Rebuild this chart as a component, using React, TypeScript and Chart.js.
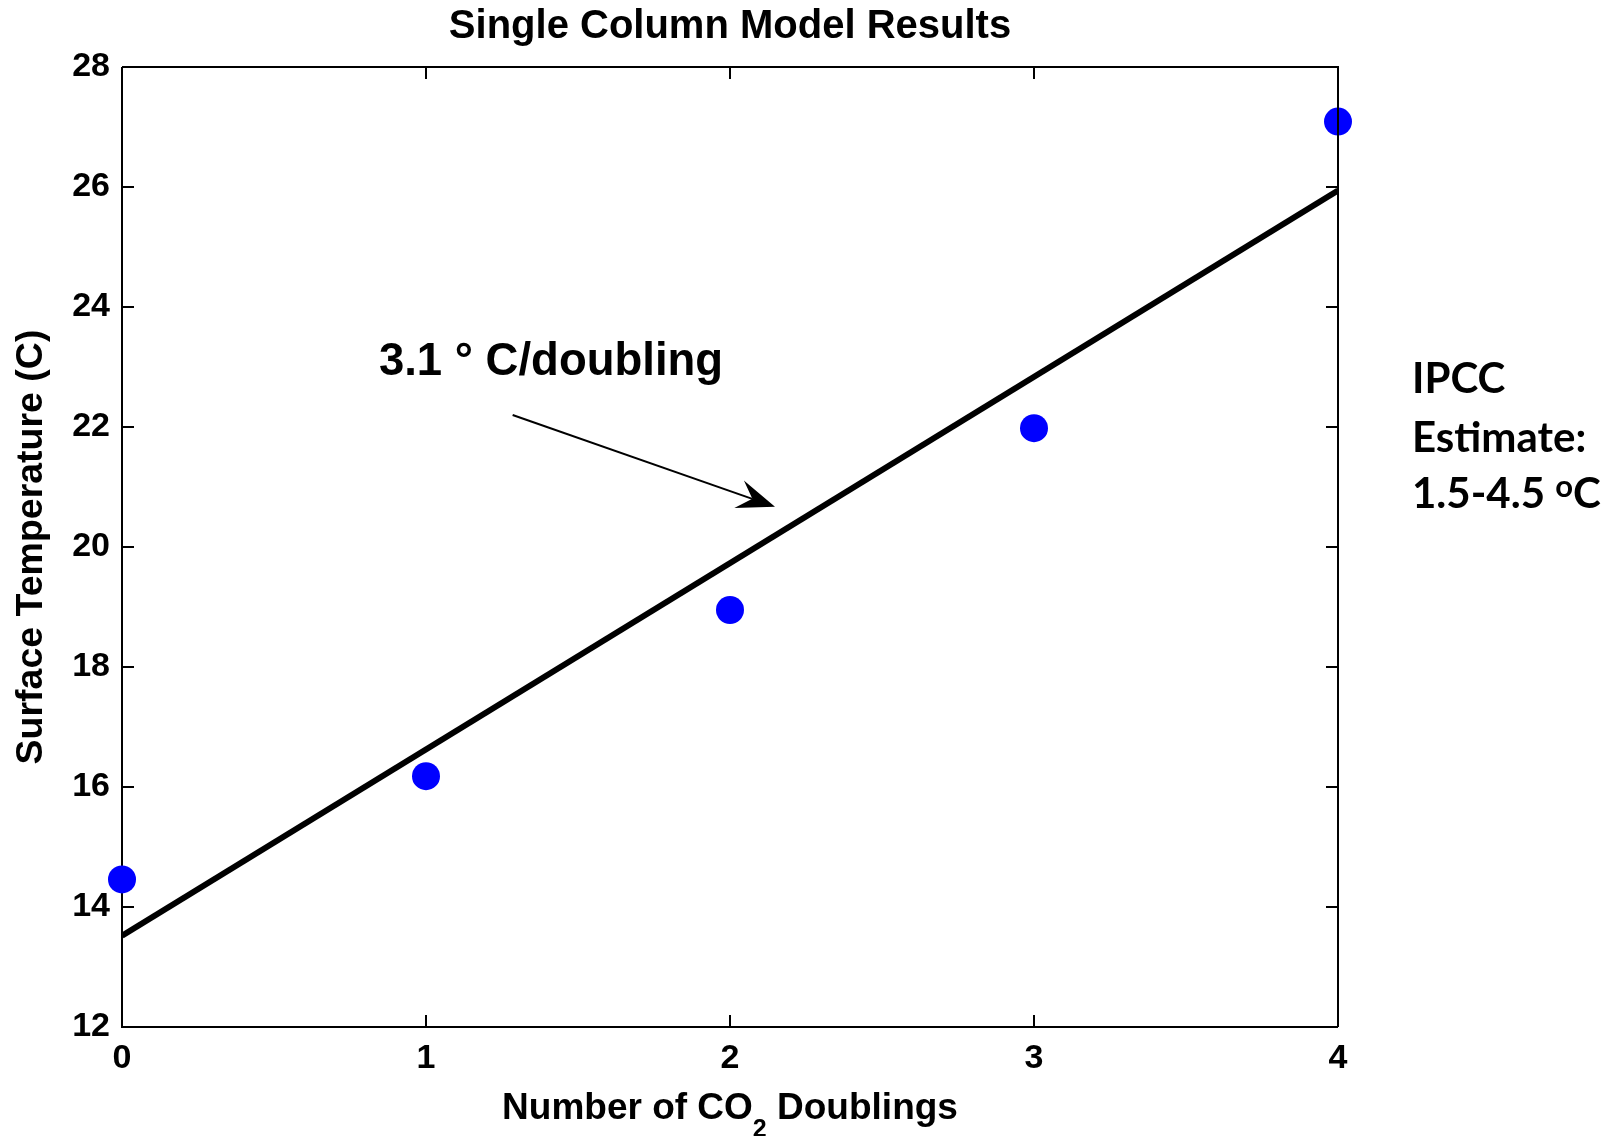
import { useEffect, useRef } from "react";
import { Chart, registerables } from "chart.js";

Chart.register(...registerables);

// Model output: surface temperature after each CO2 doubling
const doublings = [0, 1, 2, 3, 4];
const surfaceTemp = [14.46, 16.18, 18.95, 21.98, 27.09];

// Least-squares fit end points (about 3.1 C per doubling)
const fitDoublings = [0, 4];
const fitTemp = [13.52, 25.94];

// Axis ticks
const xTicks = [0, 1, 2, 3, 4];
const yTicks = [12, 14, 16, 18, 20, 22, 24, 26, 28];

// Annotation anchors in data units
const slopeLabelAt = { x: 0.845, y: 22.87 };
const arrowTail = { x: 1.285, y: 22.2 };
const arrowTip = { x: 2.148, y: 20.67 };

const SANS = '"Liberation Sans", Arial, Helvetica, sans-serif';
const CALI = 'Lato, "Open Sans", sans-serif';
const TICK = 12;

const framePlugin = {
  id: "frame",
  beforeDatasetsDraw(chart: any) {
    const { ctx, chartArea: a, scales } = chart;
    const x = scales.x;
    const y = scales.y;
    ctx.save();
    ctx.strokeStyle = "#000";
    ctx.lineWidth = 2;
    ctx.beginPath();
    ctx.moveTo(a.left, a.top);
    ctx.lineTo(a.left, a.bottom);
    ctx.lineTo(a.right, a.bottom);
    for (const v of yTicks) {
      const p = y.getPixelForValue(v);
      ctx.moveTo(a.left, p);
      ctx.lineTo(a.left + TICK, p);
    }
    for (const v of xTicks) {
      const p = x.getPixelForValue(v);
      ctx.moveTo(p, a.bottom);
      ctx.lineTo(p, a.bottom - TICK);
    }
    ctx.stroke();
    ctx.restore();
  },
  afterDatasetsDraw(chart: any) {
    const { ctx, chartArea: a, scales } = chart;
    const x = scales.x;
    const y = scales.y;
    ctx.save();
    ctx.strokeStyle = "#000";
    ctx.lineWidth = 2;
    ctx.beginPath();
    ctx.moveTo(a.left, a.top);
    ctx.lineTo(a.right, a.top);
    ctx.lineTo(a.right, a.bottom);
    for (const v of yTicks) {
      const p = y.getPixelForValue(v);
      ctx.moveTo(a.right, p);
      ctx.lineTo(a.right - TICK, p);
    }
    for (const v of xTicks) {
      const p = x.getPixelForValue(v);
      ctx.moveTo(p, a.top);
      ctx.lineTo(p, a.top + TICK);
    }
    ctx.stroke();
    ctx.restore();
  },
};

const textPlugin = {
  id: "texts",
  afterDraw(chart: any) {
    const { ctx, chartArea: a, scales } = chart;
    const x = scales.x;
    const y = scales.y;
    const cx = (a.left + a.right) / 2;
    const cy = (a.top + a.bottom) / 2;
    ctx.save();
    ctx.fillStyle = "#000";
    ctx.textBaseline = "alphabetic";

    // Title
    ctx.font = `bold 40px ${SANS}`;
    ctx.textAlign = "center";
    ctx.fillText("Single Column Model Results", cx, a.top - 29);

    // Y axis title
    ctx.save();
    ctx.translate(42, cy);
    ctx.rotate(-Math.PI / 2);
    ctx.font = `bold 37.5px ${SANS}`;
    ctx.textAlign = "center";
    ctx.fillText("Surface Temperature (C)", 0, 0);
    ctx.restore();

    // X axis title with subscript
    const main1 = "Number of CO";
    const sub = "2";
    const main2 = " Doublings";
    ctx.textAlign = "left";
    ctx.font = `bold 37px ${SANS}`;
    const w1 = ctx.measureText(main1).width;
    const w3 = ctx.measureText(main2).width;
    ctx.font = `bold 25px ${SANS}`;
    const w2 = ctx.measureText(sub).width;
    const base = a.bottom + 92;
    let sx = cx - (w1 + w2 + w3) / 2;
    ctx.font = `bold 37px ${SANS}`;
    ctx.fillText(main1, sx, base);
    sx += w1;
    ctx.font = `bold 25px ${SANS}`;
    ctx.fillText(sub, sx, base + 18);
    sx += w2;
    ctx.font = `bold 37px ${SANS}`;
    ctx.fillText(main2, sx, base);

    // Slope label and arrow
    ctx.font = `bold 45.5px ${SANS}`;
    ctx.textAlign = "left";
    ctx.fillText("3.1 \u00B0 C/doubling", x.getPixelForValue(slopeLabelAt.x), y.getPixelForValue(slopeLabelAt.y));

    const tx = x.getPixelForValue(arrowTail.x);
    const ty = y.getPixelForValue(arrowTail.y);
    const hx = x.getPixelForValue(arrowTip.x);
    const hy = y.getPixelForValue(arrowTip.y);
    const len = Math.hypot(hx - tx, hy - ty);
    const ux = (hx - tx) / len;
    const uy = (hy - ty) / len;
    const nx = -uy;
    const ny = ux;
    const headLen = 38;
    const headHalf = 14.5;
    const notch = 24;
    ctx.strokeStyle = "#000";
    ctx.lineWidth = 2;
    ctx.beginPath();
    ctx.moveTo(tx, ty);
    ctx.lineTo(hx - ux * notch, hy - uy * notch);
    ctx.stroke();
    ctx.beginPath();
    ctx.moveTo(hx, hy);
    ctx.lineTo(hx - ux * headLen + nx * headHalf, hy - uy * headLen + ny * headHalf);
    ctx.lineTo(hx - ux * notch, hy - uy * notch);
    ctx.lineTo(hx - ux * headLen - nx * headHalf, hy - uy * headLen - ny * headHalf);
    ctx.closePath();
    ctx.fill();

    // IPCC side note
    const lx = a.right + 74;
    ctx.font = `bold 42px ${CALI}`;
    ctx.fillText("IPCC", lx, a.top + 326);
    ctx.fillText("Estimate:", lx, a.top + 385);
    const l3 = "1.5-4.5 ";
    ctx.fillText(l3, lx, a.top + 441);
    const w = ctx.measureText(l3).width;
    ctx.font = `bold 31px ${CALI}`;
    ctx.fillText("o", lx + w, a.top + 430);
    const wo = ctx.measureText("o").width;
    ctx.font = `bold 42px ${CALI}`;
    ctx.fillText("C", lx + w + wo, a.top + 441);

    ctx.restore();
  },
};

export default function App() {
  const canvasRef = useRef<HTMLCanvasElement | null>(null);

  useEffect(() => {
    if (!canvasRef.current) return;
    const tickFont = { family: SANS, size: 34, weight: "bold" as const };
    const chart = new Chart(canvasRef.current, {
      type: "scatter",
      data: {
        datasets: [
          {
            label: "Model",
            data: doublings.map((d, i) => ({ x: d, y: surfaceTemp[i] })),
            backgroundColor: "#0000FF",
            borderWidth: 0,
            pointRadius: 14,
            pointHoverRadius: 14,
            clip: false as any,
          },
          {
            type: "line" as const,
            label: "Fit",
            data: fitDoublings.map((d, i) => ({ x: d, y: fitTemp[i] })),
            borderColor: "#000",
            borderWidth: 6,
            pointRadius: 0,
            showLine: true,
            fill: false,
          } as any,
        ],
      },
      options: {
        animation: false,
        responsive: true,
        maintainAspectRatio: false,
        layout: { padding: { left: 0, top: 67, right: 280, bottom: 0 } },
        plugins: {
          legend: { display: false },
          tooltip: { enabled: false },
          title: { display: false },
        },
        scales: {
          x: {
            type: "linear",
            min: 0,
            max: 4,
            grid: { display: false, drawTicks: false },
            border: { display: false },
            ticks: { stepSize: 1, font: tickFont, color: "#000", padding: 11, maxRotation: 0 },
            afterFit(scale: any) {
              scale.height = 109;
            },
          },
          y: {
            type: "linear",
            min: 12,
            max: 28,
            grid: { display: false, drawTicks: false },
            border: { display: false },
            ticks: { stepSize: 2, font: tickFont, color: "#000", padding: 12 },
            afterFit(scale: any) {
              scale.width = 122;
            },
          },
        },
      },
      plugins: [framePlugin, textPlugin],
    });
    return () => chart.destroy();
  }, []);

  return (
    <div style={{ position: "fixed", left: 0, top: 0, width: 1618, height: 1136, background: "#fff" }}>
      <canvas ref={canvasRef} />
    </div>
  );
}
